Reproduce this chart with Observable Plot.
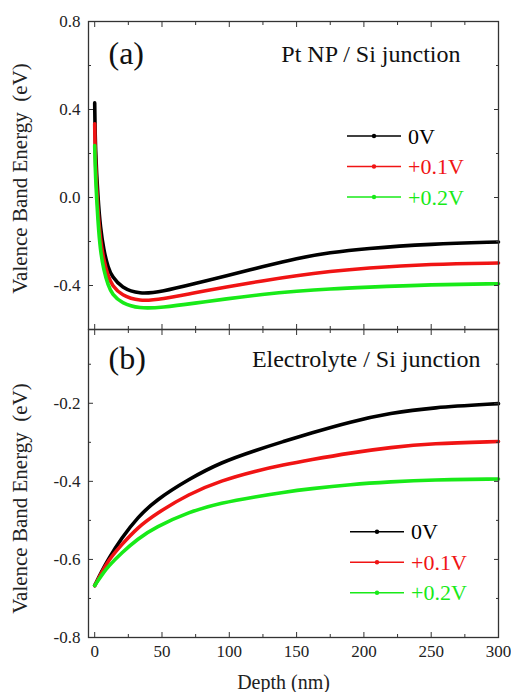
<!DOCTYPE html>
<html><head><meta charset="utf-8">
<script src="https://cdn.jsdelivr.net/npm/d3@7"></script>
<script src="https://cdn.jsdelivr.net/npm/@observablehq/plot@0.6"></script>
<style>body{margin:0;background:#fff;font-family:'Liberation Serif';} #chart{width:511px;} #chart svg{display:block;overflow:visible;}</style>
</head><body><div id="chart"></div>
<script>
// ---- data ----
const series = ["0V", "+0.1V", "+0.2V"];
const colors = ["#000000", "#f01414", "#18ea18"];

// Panel (a): Pt NP / Si junction
const depthA = [0, 0.5, 2.5, 4.2, 6.7, 10, 13, 20, 33, 50, 75, 97, 125, 150, 175, 200, 250, 300];
const a0V   = [0.43, 0.21, -0.01, -0.135, -0.24, -0.32, -0.36, -0.41, -0.44, -0.428, -0.39, -0.357, -0.314, -0.276, -0.25, -0.232, -0.211, -0.202];
const a01V  = [0.335, 0.15, -0.07, -0.19, -0.285, -0.36, -0.40, -0.445, -0.472, -0.462, -0.432, -0.408, -0.378, -0.355, -0.336, -0.321, -0.302, -0.298];
const a02V  = [0.236, 0.10, -0.12, -0.24, -0.33, -0.40, -0.44, -0.48, -0.505, -0.50, -0.48, -0.461, -0.44, -0.426, -0.415, -0.408, -0.396, -0.392];

// Panel (b): Electrolyte / Si junction
const depthB = [0, 5, 10, 20, 32, 45, 70, 94, 120, 140, 160, 190, 220, 250, 300];
const b0V   = [-0.667, -0.632, -0.600, -0.545, -0.492, -0.449, -0.394, -0.351, -0.320, -0.298, -0.277, -0.247, -0.225, -0.211, -0.201];
const b01V  = [-0.667, -0.635, -0.603, -0.562, -0.518, -0.484, -0.432, -0.398, -0.373, -0.358, -0.345, -0.327, -0.313, -0.303, -0.298];
const b02V  = [-0.667, -0.641, -0.618, -0.583, -0.547, -0.518, -0.478, -0.455, -0.439, -0.428, -0.419, -0.408, -0.401, -0.396, -0.394];

// ticks
const xTicks = [0, 50, 100, 150, 200, 250, 300];
const xMinor = [25, 75, 125, 175, 225, 275];
const yTicksA = [-0.4, 0.0, 0.4, 0.8];
const yMinorA = [-0.6, -0.2, 0.2, 0.6];
const yTicksB = [-0.8, -0.6, -0.4, -0.2];
const yMinorB = [-0.7, -0.5, -0.3, -0.1];

const yLabel = "Valence Band Energy  (eV)";
const xLabel = "Depth (nm)";

// ---- build tables ----
function table(depth, vals) {
  return vals.flatMap((v, j) => depth.map((d, i) => ({depth: d, energy: v[i], series: series[j]})));
}
const rowsA = table(depthA, [a0V, a01V, a02V]);
const rowsB = table(depthB, [b0V, b01V, b02V]);

const FONT = "'Liberation Serif'";
const AX = "#333";

function panel(o) {
  const marks = [
    Plot.line(o.rows, {x: "depth", y: "energy", stroke: "series", z: "series", strokeWidth: 3.6, curve: o.curve}),
    Plot.frame({stroke: AX, strokeWidth: 1.3}),
    // inward ticks
    Plot.axisY(o.yTicks, {anchor: "left", tickSize: 5, dx: 5, fill: "none", stroke: AX}),
    Plot.axisY(o.yMinor, {anchor: "left", tickSize: 3, dx: 3, fill: "none", stroke: AX}),
    Plot.axisY(o.yTicks, {anchor: "right", tickSize: 5, dx: -5, fill: "none", stroke: AX}),
    Plot.axisY(o.yMinor, {anchor: "right", tickSize: 3, dx: -3, fill: "none", stroke: AX}),
    Plot.axisX(xTicks, {anchor: "bottom", tickSize: 5, dy: -5, fill: "none", stroke: AX}),
    Plot.axisX(xMinor, {anchor: "bottom", tickSize: 3, dy: -3, fill: "none", stroke: AX}),
    Plot.axisX(xTicks, {anchor: "top", tickSize: 5, dy: 5, fill: "none", stroke: AX}),
    Plot.axisX(xMinor, {anchor: "top", tickSize: 3, dy: 3, fill: "none", stroke: AX}),
    // labels
    Plot.axisY(o.yTicks, {anchor: "left", tickSize: 0, tickPadding: 8, tickFormat: d => d.toFixed(1), fontSize: 17, fill: "#222", label: null}),
    Plot.text([yLabel], {text: d => d, frameAnchor: "left", dx: -68, dy: o.yLabelDy, rotate: -90, fontSize: 21, textAnchor: "middle", lineAnchor: "middle", fill: "#222"}),
    Plot.text([o.tag], {text: d => d, frameAnchor: "top-left", dx: 20, dy: o.tagDy, fontSize: 32, textAnchor: "start", lineAnchor: "middle", fill: "#111"}),
    Plot.text([o.title], {text: d => d, frameAnchor: "top-right", dx: o.titleDx, dy: o.tagDy + 1, fontSize: 24, textAnchor: "end", lineAnchor: "middle", fill: "#111"})
  ];
  if (o.showX) {
    marks.push(
      Plot.axisX(xTicks, {anchor: "bottom", tickSize: 0, tickPadding: 7, tickFormat: d => String(d), fontSize: 17, fill: "#222", label: null}),
      Plot.text([xLabel], {text: d => d, frameAnchor: "bottom", dx: -10, dy: 45, fontSize: 20, lineAnchor: "middle", fill: "#222"})
    );
  }
  const svg = Plot.plot({
    width: 511,
    height: o.height,
    marginLeft: 88,
    marginRight: 13,
    marginTop: o.marginTop,
    marginBottom: o.marginBottom,
    style: {fontFamily: FONT},
    x: {domain: [-4.6, 300]},
    y: {domain: o.yDomain},
    color: {domain: series, range: colors},
    marks
  });
  // legend
  const g = d3.select(svg).append("g").attr("text-anchor", "start");
  series.forEach((s, i) => {
    const y = o.legY + i * o.legStep;
    g.append("line").attr("x1", o.legX).attr("x2", o.legX + 54).attr("y1", y).attr("y2", y)
      .attr("stroke", colors[i]).attr("stroke-width", 1.6);
    g.append("circle").attr("cx", o.legX + 27).attr("cy", y).attr("r", 2.2).attr("fill", colors[i]);
    g.append("text").attr("x", o.legX + 61).attr("y", y).attr("dy", "0.35em")
      .attr("text-anchor", "start")
      .attr("font-family", "Liberation Serif").attr("font-size", 22).attr("fill", colors[i]).text(s);
  });
  return svg;
}

const chart = document.getElementById("chart");
chart.appendChild(panel({
  rows: rowsA, yDomain: [-0.6, 0.8], yTicks: yTicksA, yMinor: yMinorA, curve: "basis",
  height: 329, marginTop: 21, marginBottom: 0, showX: false,
  tag: "(a)", tagDy: 32, title: "Pt NP / Si junction", titleDx: -38, yLabelDy: 3,
  legX: 347, legY: 136, legStep: 30.5
}));
chart.appendChild(panel({
  rows: rowsB, yDomain: [-0.8, -0.011], yTicks: yTicksB, yMinor: yMinorB, curve: "basis",
  height: 363, marginTop: 0, marginBottom: 55, showX: true,
  tag: "(b)", tagDy: 29, title: "Electrolyte / Si junction", titleDx: -18, yLabelDy: 15,
  legX: 350, legY: 202.7, legStep: 30.5
}));
</script>
</body></html>
